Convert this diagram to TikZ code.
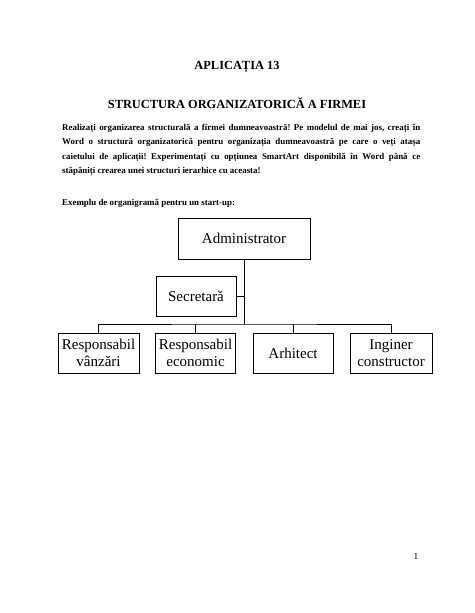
\documentclass[tikz,border=0pt]{standalone}
\usepackage{fontspec}
\setmainfont{Liberation Serif}
\usepackage{tikz}

\begin{document}
\frenchspacing
\begin{tikzpicture}[x=1pt,y=-1pt,
  caseta/.style={draw,line width=0.9pt,inner sep=0pt,align=center,
    font=\fontsize{15}{16.5}\selectfont},
  titlu/.style={font=\fontsize{12.4}{14}\selectfont\bfseries},
  corp/.style={font=\fontsize{8.9}{14.5}\selectfont\bfseries,inner sep=0pt}]
  \useasboundingbox[fill=white] (0,0) rectangle (474,613);
  \node[titlu] (t1) at (237,67) {APLICAȚIA 13};
  \node[titlu] (t2) at (237,103) {STRUCTURA ORGANIZATORICĂ A FIRMEI};
  \node[corp,anchor=north west,text width=358pt,align=justify] (par) at (62,124)
    {Realizați organizarea structurală a firmei dumneavoastră! Pe modelul de mai jos, creați în\linebreak
     Word o structură organizatorică pentru organizația dumneavoastră pe care o veți atașa\linebreak
     caietului de aplicații! Experimentați cu opțiunea SmartArt disponibilă în Word până ce\linebreak
     stăpâniți crearea unei structuri ierarhice cu aceasta!};
  \node[corp,anchor=west] (ex) at (62,203) {Exemplu de organigramă pentru un start-up:};
  % organigrama
  \node[caseta,minimum width=132pt,minimum height=41pt] (adm) at (244,238.5) {Administrator};
  \node[caseta,minimum width=80pt,minimum height=40pt] (sec) at (196,296) {Secretară};
  \node[caseta,minimum width=81pt,minimum height=40pt] (rv) at (98.5,353) {Responsabil\\vânzări};
  \node[caseta,minimum width=80pt,minimum height=40pt] (re) at (195.5,353) {Responsabil\\economic};
  \node[caseta,minimum width=80pt,minimum height=40pt] (arh) at (293,353) {Arhitect};
  \node[caseta,minimum width=82pt,minimum height=40pt] (ing) at (391,353) {Inginer\\constructor};
  \coordinate (nod) at (244,324);
  \draw[line width=0.9pt] (adm.south) -- (nod);
  \draw[line width=0.9pt] (sec.east) -- (sec.east -| nod);
  \draw[line width=0.9pt] (rv.north) |- (nod) -| (ing.north);
  \draw[line width=0.9pt] (re.north) -- (re.north |- nod);
  \draw[line width=0.9pt] (arh.north) -- (arh.north |- nod);
  \node[font=\fontsize{9.3}{11}\selectfont] (pag) at (416,556) {1};
\end{tikzpicture}
\end{document}
